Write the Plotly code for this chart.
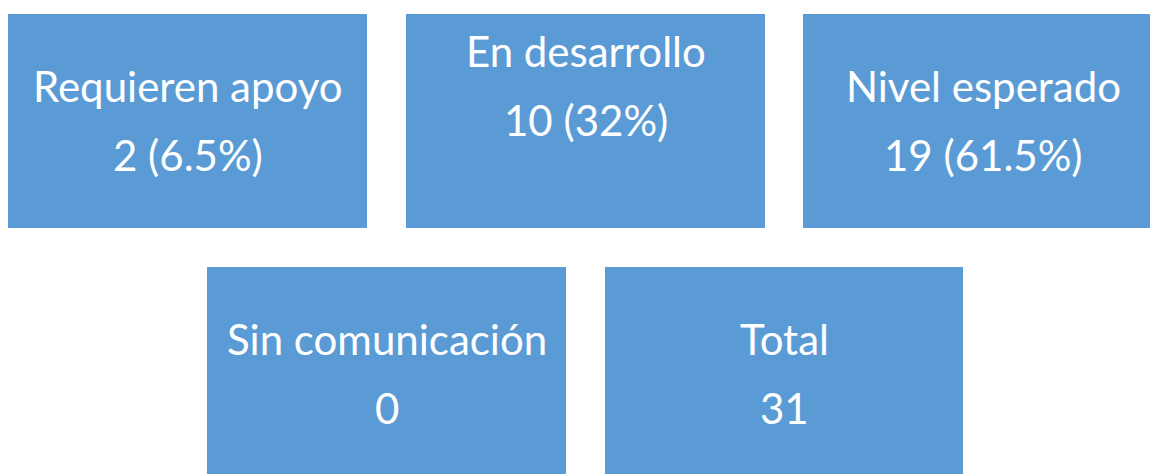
import plotly.graph_objects as go

# summary values
categories = ['Requieren apoyo', 'En desarrollo', 'Nivel esperado', 'Sin comunicación', 'Total']
counts = [2, 10, 19, 0, 31]
percents = [6.5, 32, 61.5, None, None]

# layout of the tiles (pixel coordinates: x0, x1, y0, y1, y of first text line)
tiles = [
    (8, 367, 14, 228, 86),
    (406, 765, 14, 228, 51),
    (803, 1162, 14, 228, 86),
    (207, 566, 267, 480, 339),
    (605, 963, 267, 480, 339),
]

BLUE = '#5B9BD5'
FONT = 'Lato'

fig = go.Figure()
fig.add_trace(go.Scatter(x=[0, 1150], y=[0, 474], mode='markers',
                         marker=dict(opacity=0), hoverinfo='skip', showlegend=False))

for i in range(len(categories)):
    x0, x1, y0, y1, ty = tiles[i]
    fig.add_shape(type='rect', xref='x', yref='y', x0=x0, x1=x1, y0=y0, y1=y1,
                  fillcolor=BLUE, line=dict(width=0), layer='below')
    if percents[i] is None:
        value = str(counts[i])
    else:
        value = '%d (%s%%)' % (counts[i], ('%g' % percents[i]))
    xc = (x0 + x1) / 2
    if i == 2:
        xc = 983
    fig.add_annotation(x=xc, y=ty, xref='x', yref='y', text=categories[i], showarrow=False,
                       font=dict(family=FONT, size=42, color='white'), yanchor='middle')
    fig.add_annotation(x=xc, y=ty + 69, xref='x', yref='y', text=value, showarrow=False,
                       font=dict(family=FONT, size=42, color='white'), yanchor='middle')

fig.update_xaxes(range=[0, 1150], visible=False, fixedrange=True)
fig.update_yaxes(range=[474, 0], visible=False, fixedrange=True)
fig.update_layout(width=1150, height=474, margin=dict(l=0, r=0, t=0, b=0),
                  plot_bgcolor='white', paper_bgcolor='white')

fig.write_html("out.html", config={'displayModeBar': False},
               post_script="document.body.style.margin='0';document.body.style.overflow='hidden';")
